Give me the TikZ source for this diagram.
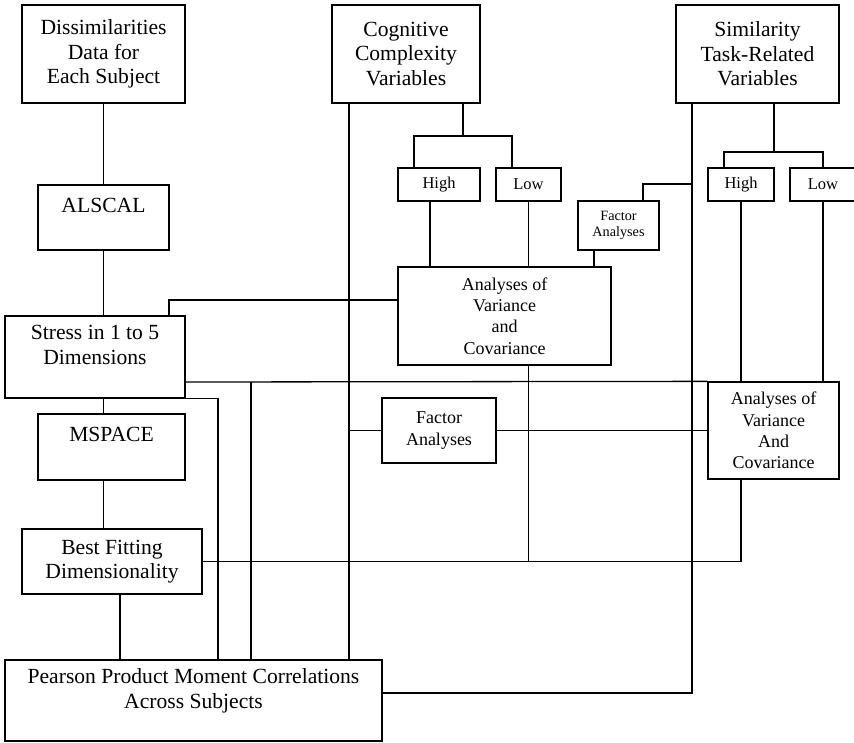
\documentclass[tikz,border=0pt]{standalone}
\usepackage{fontspec}
\setmainfont{Liberation Serif}
\usetikzlibrary{positioning}

\tikzset{
  box/.style={draw, line width=1.3pt, inner sep=0pt, align=center,
    font=\fontsize{21.6}{24.5}\selectfont},
  midbox/.style={box, font=\fontsize{18}{21.2}\selectfont},
  hlbox/.style={box, font=\fontsize{16.5}{19}\selectfont, minimum height=33pt},
  tinybox/.style={box, font=\fontsize{14.2}{16.7}\selectfont},
  wire/.style={line width=1.3pt}
}

\begin{document}
\begin{tikzpicture}[x=1pt, y=-1pt]
\useasboundingbox (0,0) rectangle (854,742);

% left column
\node[box, minimum width=163pt, minimum height=98pt] (dissim) at (103.5,54) {Dissimilarities\\Data for\\Each Subject};
\node[box, minimum width=131pt, minimum height=65pt] (alscal) at (103.5,217.5) {ALSCAL\\~};
\node[box, minimum width=180pt, minimum height=82pt] (stress) at (95,357) {Stress in 1 to 5\\Dimensions\\~};
\node[box, minimum width=147pt, minimum height=66pt] (mspace) at (111.5,447) {MSPACE\\~};
\node[box, minimum width=180pt, minimum height=65pt] (bestfit) at (112,561.5) {Best Fitting\\Dimensionality};
\node[box, minimum width=377pt, minimum height=81pt] (pearson) at (193.5,700.5) {Pearson Product Moment Correlations\\Across Subjects\\~};

% cognitive complexity
\node[box, minimum width=148pt, minimum height=98pt] (cogvar) at (406,54) {Cognitive\\Complexity\\Variables};
\node[hlbox, minimum width=82pt] (coghi) at (439,184.5) {High};
\node[hlbox, minimum width=65pt] (coglo) at (528.5,184.5) {Low};
\node[tinybox, minimum width=81pt, minimum height=49pt] (facta) at (618.5,225.5) {Factor\\Analyses};
\node[midbox, minimum width=213pt, minimum height=98pt] (anova) at (504.5,316) {Analyses of\\Variance\\and\\Covariance};
\node[midbox, minimum width=114pt, minimum height=65pt] (factb) at (439,430.5) {Factor\\Analyses};

% similarity task
\node[box, minimum width=163pt, minimum height=98pt] (simvar) at (757.5,54) {Similarity\\Task-Related\\Variables};
\node[hlbox, minimum width=66pt] (simhi) at (741,184.5) {High};
\node[hlbox, minimum width=66pt] (simlo) at (823,184.5) {Low};
\node[midbox, minimum width=131pt, minimum height=97pt] (anovb) at (773.5,430.5) {Analyses of\\Variance\\And\\Covariance};

\coordinate (simjoin) at (692,184);
\coordinate (strjoin) at (251,382);

% left chain
\draw[wire] (dissim) -- (alscal);
\draw[wire] (alscal.south) -- (alscal.south |- stress.north);
\draw[wire] (alscal.south |- stress.south) -- (alscal.south |- mspace.north);
\draw[wire] (alscal.south |- mspace.south) -- (alscal.south |- bestfit.north);
\draw[wire] (bestfit.south -| 120,0) -- (pearson.north -| 120,0);

% stress outputs
\draw[wire] (stress.north -| 169,0) |- (anova.west |- 0,300);
\draw[wire] (stress.east |- strjoin) -- (anovb.north west);
\draw[wire] (stress.south east) -| (pearson.north -| 218,0);
\draw[wire] (strjoin) -- (pearson.north -| strjoin);

% cognitive tree
\draw[wire] (cogvar.south -| 463,0) -- (463,136);
\draw[wire] (coghi.north -| 414,0) -- (414,136) -| (coglo.north -| 512,0);
\draw[wire] (cogvar.south -| 349,0) -- (pearson.north -| 349,0);
\draw[wire] (coghi.south -| 430,0) -- (anova.north -| 430,0);
\draw[wire] (coglo.south) -- (coglo.south |- anova.north);
\draw[wire] (facta.south -| 594,0) -- (anova.north -| 594,0);
\draw[wire] (facta.north -| 643,0) |- (simjoin);
\draw[wire] (coglo.south |- anova.south) -- (coglo.south |- bestfit.east);
\draw[wire] (factb.west -| 349,0) -- (factb.west);
\draw[wire] (factb.east) -- (factb.east -| anovb.west);

% similarity tree
\draw[wire] (simvar.south -| 774,0) -- (774,152);
\draw[wire] (simhi.north -| 724,0) -- (724,152) -| (simlo.north);
\draw[wire] (simvar.south -| simjoin) |- (pearson.east |- 0,693);
\draw[wire] (simhi.south) -- (simhi.south |- anovb.north);
\draw[wire] (simlo.south) -- (simlo.south |- anovb.north);
\draw[wire] (bestfit.east) -| (simhi.south |- anovb.south);

\end{tikzpicture}
\end{document}
